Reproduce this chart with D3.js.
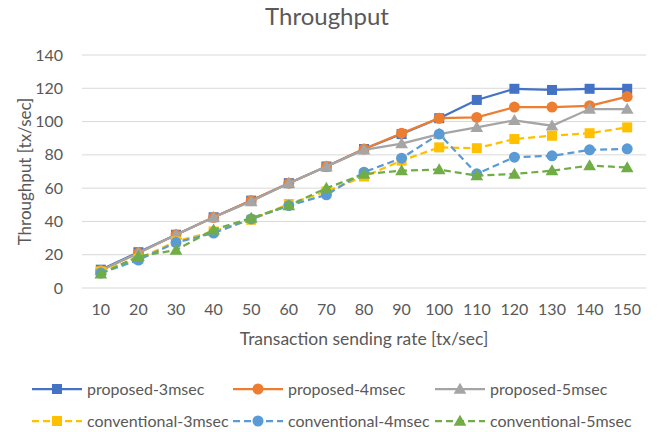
<!DOCTYPE html>
<html>
<head>
<meta charset="utf-8">
<script src="https://cdn.jsdelivr.net/npm/d3@7"></script>
<style>
  body { margin: 0; background: #fff; }
  svg text { font-family: Lato, "Open Sans", sans-serif; fill: #595959; }
</style>
</head>
<body>
<svg id="chart"></svg>
<script>
(function() {

const rates = [10, 20, 30, 40, 50, 60, 70, 80, 90, 100, 110, 120, 130, 140, 150];
const yTicks = [0, 20, 40, 60, 80, 100, 120, 140];

const proposed3 = [11, 21.5, 32, 42.5, 52.5, 63, 73, 83.5, 92.5, 102, 113, 119.7, 119, 119.7, 119.7];
const proposed4 = [10.5, 21, 32, 42.5, 52.5, 63, 73, 83.5, 93, 102, 102.5, 108.7, 108.7, 109.5, 115];
const proposed5 = [10.5, 21, 32, 42.5, 52, 63, 73, 83, 86.8, 92.5, 96.5, 100.7, 97.5, 107.5, 107.5];
const conventional3 = [10, 17.5, 28, 34, 41, 50.5, 58, 67, 76.5, 84.5, 84, 89.5, 91.5, 93, 96.5];
const conventional4 = [9, 16.8, 27.3, 33, 41.5, 49.5, 56, 69.6, 78, 92.5, 68.6, 78.6, 79.4, 83, 83.6];
const conventional5 = [8.5, 19, 22.8, 35, 42, 49.5, 60, 68.4, 70.5, 71.2, 67.5, 68.5, 70.5, 73.6, 72.4];

const series = [
  { name: "proposed-3msec", values: proposed3, color: "#4472C4", dash: null, marker: "square" },
  { name: "proposed-4msec", values: proposed4, color: "#ED7D31", dash: null, marker: "circle" },
  { name: "proposed-5msec", values: proposed5, color: "#A5A5A5", dash: null, marker: "triangle" },
  { name: "conventional-3msec", values: conventional3, color: "#FFC000", dash: "7,4", marker: "square" },
  { name: "conventional-4msec", values: conventional4, color: "#5B9BD5", dash: "7,4", marker: "circle" },
  { name: "conventional-5msec", values: conventional5, color: "#70AD47", dash: "7,4", marker: "triangle" },
];

const W = 660, H = 432;
const margin = { top: 55, right: 14, bottom: 144, left: 82 };
const width = W - margin.left - margin.right;
const height = H - margin.top - margin.bottom;

const svg = d3.select("#chart").attr("width", W).attr("height", H);
const g = svg.append("g").attr("transform", `translate(${margin.left},${margin.top})`);

const x = d3.scaleBand().domain(rates).range([0, width]);
const y = d3.scaleLinear().domain([0, 140]).range([height, 0]);

// gridlines
g.append("g")
  .selectAll("line")
  .data(yTicks)
  .join("line")
  .attr("x1", 0).attr("x2", width)
  .attr("y1", d => y(d)).attr("y2", d => y(d))
  .attr("stroke", "#d9d9d9").attr("stroke-width", 1);

// y tick labels
const yAxis = g.append("g")
  .call(d3.axisLeft(y).tickValues(yTicks).tickSize(0).tickPadding(19));
yAxis.select(".domain").remove();
yAxis.selectAll("text").style("font-size", "16px").attr("fill", "#595959");

// x tick labels
const xAxis = g.append("g")
  .attr("transform", `translate(0,${height})`)
  .call(d3.axisBottom(x).tickSize(0).tickPadding(16));
xAxis.select(".domain").remove();
xAxis.selectAll("text").style("font-size", "16px").attr("fill", "#595959");

// titles
svg.append("text")
  .attr("x", 327).attr("y", 25)
  .attr("text-anchor", "middle")
  .style("font-size", "24px")
  .text("Throughput");

svg.append("text")
  .attr("x", 364).attr("y", 345)
  .attr("text-anchor", "middle")
  .style("font-size", "17.5px")
  .text("Transaction sending rate [tx/sec]");

svg.append("text")
  .attr("transform", `translate(31,${margin.top + height / 2}) rotate(-90)`)
  .attr("text-anchor", "middle")
  .style("font-size", "17px")
  .text("Throughput [tx/sec]");

const cx = d => x(d) + x.bandwidth() / 2;

function drawMarker(sel, type, color) {
  if (type === "square") {
    sel.append("rect")
      .attr("x", -5).attr("y", -5).attr("width", 10).attr("height", 10)
      .attr("fill", color);
  } else if (type === "circle") {
    sel.append("circle").attr("r", 5.5).attr("fill", color);
  } else {
    sel.append("path")
      .attr("d", d3.symbol(d3.symbolTriangle, 70)())
      .attr("transform", "translate(0,1)")
      .attr("fill", color);
  }
}

const line = d3.line().x((d, i) => cx(rates[i])).y(d => y(d));

series.forEach(s => {
  g.append("path")
    .datum(s.values)
    .attr("fill", "none")
    .attr("stroke", s.color)
    .attr("stroke-width", 2.25)
    .attr("stroke-dasharray", s.dash)
    .attr("d", line);

  s.values.forEach((v, i) => {
    const m = g.append("g").attr("transform", `translate(${cx(rates[i])},${y(v)})`);
    drawMarker(m, s.marker, s.color);
  });
});

// legend
const legendCols = [32, 233, 435];
const legendRows = [389, 421];
series.forEach((s, i) => {
  const lx = legendCols[i % 3];
  const ly = legendRows[Math.floor(i / 3)];
  const lg = svg.append("g").attr("transform", `translate(${lx},${ly})`);
  lg.append("line")
    .attr("x1", 0).attr("x2", 50)
    .attr("stroke", s.color).attr("stroke-width", 2.25)
    .attr("stroke-dasharray", s.dash);
  const m = lg.append("g").attr("transform", "translate(25,0)");
  drawMarker(m, s.marker, s.color);
  lg.append("text")
    .attr("x", 55).attr("y", 5.5)
    .style("font-size", "16px")
    .text(s.name);
});

})();
</script>
</body>
</html>
